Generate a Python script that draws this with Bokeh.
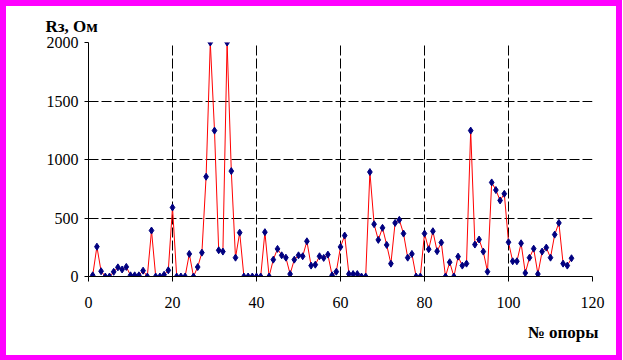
from bokeh.plotting import figure
from bokeh.models import Range1d, FixedTicker, Title
from bokeh.embed import file_html
from bokeh.resources import INLINE

# Data
support_no = list(range(1, 116))
resistance = [
    10, 255, 45, 0, 0, 40, 78, 60, 82, 10, 10, 10, 50, 0, 393, 0, 0, 15, 53, 590,
    0, 0, 0, 193, 0, 81, 204, 853, 2000, 1247, 224, 213, 2000, 901, 161, 375, 0, 0, 0, 0,
    0, 379, 0, 144, 236, 181, 161, 21, 144, 181, 173, 301, 93, 101, 173, 159, 187, 10, 41, 253,
    350, 21, 21, 21, 0, 0, 893, 447, 313, 416, 270, 110, 458, 484, 367, 161, 193, 0, 0, 367,
    233, 387, 216, 290, 0, 122, 0, 170, 93, 110, 1247, 273, 316, 213, 41, 804, 739, 650, 707, 293,
    130, 130, 284, 30, 161, 238, 21, 213, 247, 161, 358, 458, 110, 93, 156,
]
x_ticks = [0, 20, 40, 60, 80, 100, 120]
y_ticks = [0, 500, 1000, 1500, 2000]
y_title = "Rз, Ом"
x_title = "№ опоры"

SERIF = "Liberation Serif"

p = figure(
    width=610, height=349,
    x_range=Range1d(0, 120), y_range=Range1d(0, 2000),
    output_backend="svg", toolbar_location=None,
    min_border_left=82, min_border_right=24, min_border_top=36, min_border_bottom=79,
    background_fill_color="white", border_fill_color="white",
    styles={"outline": "6px solid #ff00ff", "margin": "6px 0 0 6px"},
)
p.outline_line_color = None

p.title.text = y_title
p.title.align = "left"
p.title.offset = -43
p.title.vertical_align = "top"
p.title.text_font = SERIF
p.title.text_font_style = "bold"
p.title.text_font_size = "17px"
p.title.text_color = "black"

xt = Title(text=x_title, align="right", offset=-6, standoff=21, text_font=SERIF,
           text_font_style="bold", text_font_size="17px", text_color="black")
p.add_layout(xt, "below")

p.xaxis.ticker = FixedTicker(ticks=x_ticks)
p.yaxis.ticker = FixedTicker(ticks=y_ticks)
for ax in (p.xaxis, p.yaxis):
    ax.axis_line_color = "black"
    ax.axis_line_width = 1
    ax.major_tick_line_color = "black"
    ax.major_tick_in = 0
    ax.minor_tick_line_color = None
    ax.major_label_text_font = SERIF
    ax.major_label_text_font_size = "16px"
    ax.major_label_text_color = "black"
p.xaxis.major_tick_out = 5
p.yaxis.major_tick_out = 4
p.xaxis.major_label_standoff = 15
p.yaxis.major_label_standoff = 6

for g in (p.xgrid, p.ygrid):
    g.grid_line_color = "black"
    g.grid_line_dash = "10 3"
    g.grid_line_width = 1

p.line(support_no, resistance, line_color="#ff0000", line_width=1)
p.scatter(support_no, resistance, marker="diamond", size=7,
          fill_color="#000080", line_color="#000080")

open("out.html", "w").write(file_html(p, INLINE))
